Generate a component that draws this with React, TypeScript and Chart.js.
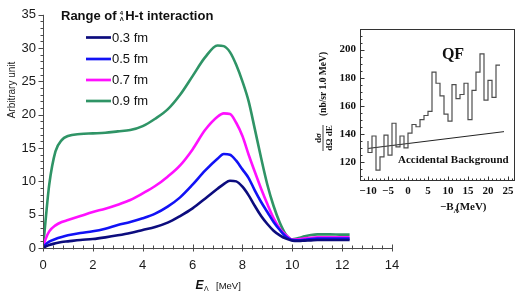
import React, { useEffect, useRef } from "react";
import { Chart, registerables } from "chart.js";

Chart.register(...registerables);

// ---------- Main chart data ----------
const energies = [0, 0.1, 0.25, 0.5, 0.75, 1, 1.5, 2, 2.5, 3, 3.5, 4, 4.5, 5, 5.5, 6, 6.5, 7, 7.25, 7.5, 7.75, 8, 8.25, 8.5, 8.75, 9, 9.25, 9.5, 9.75, 10, 10.25, 10.5, 10.75, 11, 11.5, 12, 12.3];
const range03 = [0, 0.2, 0.45, 0.7, 0.9, 1.0, 1.2, 1.35, 1.6, 1.9, 2.25, 2.7, 3.15, 3.8, 4.8, 5.95, 7.4, 8.9, 9.6, 10.1, 10.0, 9.2, 7.9, 6.3, 4.8, 3.6, 2.6, 1.9, 1.4, 1.1, 1.05, 1.1, 1.15, 1.2, 1.2, 1.2, 1.2];
const range05 = [0, 0.5, 0.95, 1.35, 1.65, 1.9, 2.25, 2.5, 2.9, 3.45, 3.9, 4.45, 5.15, 6.2, 7.6, 9.5, 11.6, 13.4, 14.1, 14.0, 13.1, 11.8, 10.5, 8.6, 6.9, 5.4, 3.9, 2.7, 1.7, 1.2, 1.15, 1.25, 1.35, 1.4, 1.4, 1.4, 1.4];
const range07 = [0, 1.3, 2.5, 3.4, 3.9, 4.2, 4.8, 5.4, 5.9, 6.5, 7.2, 8.2, 9.3, 10.7, 12.4, 14.8, 17.7, 19.7, 20.2, 20.1, 18.8, 16.8, 14.0, 11.4, 8.9, 6.6, 4.5, 2.9, 1.9, 1.25, 1.3, 1.45, 1.55, 1.6, 1.6, 1.6, 1.6];
const range09 = [0, 4.0, 9.5, 14.5, 16.2, 16.8, 17.1, 17.2, 17.3, 17.5, 17.7, 18.3, 19.4, 20.8, 23.0, 25.8, 28.6, 30.4, 30.3, 29.4, 27.5, 25.0, 22.0, 17.8, 13.5, 9.5, 6.3, 3.8, 2.0, 1.3, 1.5, 1.75, 1.95, 2.05, 2.05, 2.0, 2.0];
const seriesLabels = ["0.3 fm", "0.5 fm", "0.7 fm", "0.9 fm"];
const seriesColors = ["#0c0c7e", "#1212f5", "#ff10ff", "#2f9466"];
const mainXTicks = [0, 2, 4, 6, 8, 10, 12, 14];
const mainYTicks = [0, 5, 10, 15, 20, 25, 30, 35];
const legendTitlePrefix = "Range of";
const legendTitleSup = "4";
const legendTitleSub = "Λ";
const legendTitleSuffix = "H-t interaction";
const mainYTitle = "Arbitrary unit";
const mainXTitleMain = "E";
const mainXTitleSub = "Λ";
const mainXTitleUnit = "[MeV]";

// ---------- Inset data ----------
const binEdges = [-10, -9, -8, -7, -6, -5, -4, -3, -2, -1, 0, 1, 2, 3, 4, 5, 6, 7, 8, 9, 10, 11, 12, 13, 14, 15, 16, 17, 18, 19, 20, 21, 22, 23, 24];
const binCounts = [134.8, 126.6, 138.4, 114, 123.5, 139, 124.7, 147.5, 130.6, 138.4, 129.9, 140.5, 146.6, 145, 150, 153, 156, 184, 176, 167, 154, 149, 175, 165, 168, 176, 150, 171, 184, 197, 164, 178, 166, 189];
const bgX = [-10, 24];
const bgY = [129.5, 141.5];
const insetXTicks = [-10, -5, 0, 5, 10, 15, 20, 25];
const insetYTicks = [120, 140, 160, 180, 200];
const insetLabelQF = "QF";
const insetLabelBg = "Accidental Background";
const insetXTitleMain = "\u2212B";
const insetXTitleSub = "Λ";
const insetXTitleUnit = "(MeV)";
const insetYTitleNum = "dσ";
const insetYTitleDen = "dΩ dE";
const insetYTitleUnit = "(nb/sr 1.0 MeV)";

const SANS = '"Liberation Sans", Arial, sans-serif';
const SERIF = '"Liberation Serif", "Times New Roman", serif';

const mainDecor = {
  id: "mainDecor",
  afterDraw(chart: any) {
    const ctx = chart.ctx as CanvasRenderingContext2D;
    const xs = chart.scales.x;
    const ys = chart.scales.y;
    const area = chart.chartArea;
    ctx.save();
    ctx.strokeStyle = "#4a4a4a";
    ctx.lineWidth = 1;
    // axis lines
    const axX = Math.round(area.left) + 0.5;
    const axY = Math.round(area.bottom) + 0.5;
    ctx.beginPath();
    ctx.moveTo(axX, area.top);
    ctx.lineTo(axX, axY);
    ctx.lineTo(xs.getPixelForValue(14), axY);
    ctx.stroke();
    // y ticks
    for (let v = 0; v <= 35; v += 1) {
      const py = Math.round(ys.getPixelForValue(v)) + 0.5;
      const major = v % 5 === 0;
      ctx.beginPath();
      ctx.moveTo(axX - (major ? 5 : 3), py);
      ctx.lineTo(axX, py);
      ctx.stroke();
    }
    // x ticks
    for (let i = 0; i <= 35; i++) {
      const px = Math.round(xs.getPixelForValue(i * 0.4)) + 0.5;
      const major = i % 5 === 0;
      ctx.beginPath();
      ctx.moveTo(px, axY - (major ? 4 : 3));
      ctx.lineTo(px, axY + (major ? 3 : 1));
      ctx.stroke();
    }
    ctx.fillStyle = "#111";
    // legend title
    ctx.textBaseline = "alphabetic";
    ctx.textAlign = "left";
    ctx.font = `bold 13px ${SANS}`;
    let tx = 61;
    const tb = 20;
    ctx.fillText(legendTitlePrefix, tx, tb);
    tx += ctx.measureText(legendTitlePrefix + " ").width - 0.5;
    ctx.font = `bold 6px ${SANS}`;
    ctx.fillText(legendTitleSup, tx, tb - 5);
    ctx.fillText(legendTitleSub, tx, tb + 1);
    tx += 5.5;
    ctx.font = `bold 13px ${SANS}`;
    ctx.fillText(legendTitleSuffix, tx, tb);
    // legend items
    const rows = [37.5, 59, 80, 101];
    chart.data.datasets.forEach((ds: any, i: number) => {
      ctx.strokeStyle = ds.borderColor;
      ctx.lineWidth = 2.7;
      ctx.beginPath();
      ctx.moveTo(86, rows[i]);
      ctx.lineTo(111, rows[i]);
      ctx.stroke();
      ctx.fillStyle = "#111";
      ctx.font = `13px ${SANS}`;
      ctx.textBaseline = "middle";
      ctx.fillText(ds.label, 112, rows[i] + 0.5);
    });
    // y title
    ctx.save();
    ctx.translate(12, 90);
    ctx.rotate(-Math.PI / 2);
    ctx.textAlign = "center";
    ctx.textBaseline = "middle";
    ctx.font = `10px ${SANS}`;
    ctx.fillStyle = "#222";
    ctx.fillText(mainYTitle, 0, 0);
    ctx.restore();
    // x title
    ctx.textBaseline = "alphabetic";
    ctx.textAlign = "left";
    ctx.font = `bold italic 12px ${SANS}`;
    ctx.fillText(mainXTitleMain, 195.5, 288.5);
    ctx.font = `7px ${SANS}`;
    ctx.fillText(mainXTitleSub, 204, 290.5);
    ctx.font = `9.5px ${SANS}`;
    ctx.fillText(mainXTitleUnit, 216, 288.5);
    ctx.restore();
  },
};

const insetDecor = {
  id: "insetDecor",
  afterDraw(chart: any) {
    const ctx = chart.ctx as CanvasRenderingContext2D;
    const xs = chart.scales.x;
    const ys = chart.scales.y;
    const a = chart.chartArea;
    const L = Math.round(a.left) + 0.5;
    const R = Math.round(a.right) + 0.5;
    const T = Math.round(a.top) + 0.5;
    const B = Math.round(a.bottom) + 0.5;
    ctx.save();
    ctx.strokeStyle = "#333";
    ctx.lineWidth = 1;
    ctx.strokeRect(L, T, R - L, B - T);
    // left ticks (inward)
    for (let v = 110; v <= 210; v += 5) {
      const py = Math.round(ys.getPixelForValue(v)) + 0.5;
      const major = v % 20 === 0 && v >= 120 && v <= 200;
      ctx.beginPath();
      ctx.moveTo(L, py);
      ctx.lineTo(L + (major ? 4 : 2), py);
      ctx.stroke();
    }
    // bottom ticks (inward)
    for (let v = -11; v <= 26; v += 1) {
      const px = Math.round(xs.getPixelForValue(v)) + 0.5;
      const major = v % 5 === 0;
      ctx.beginPath();
      ctx.moveTo(px, B);
      ctx.lineTo(px, B - (major ? 4 : 2));
      ctx.stroke();
    }
    ctx.fillStyle = "#111";
    ctx.textBaseline = "alphabetic";
    // QF
    ctx.textAlign = "center";
    ctx.font = `bold 16px ${SERIF}`;
    ctx.fillText(insetLabelQF, 143, 41);
    // Accidental background
    ctx.textAlign = "left";
    ctx.font = `bold 11px ${SERIF}`;
    ctx.fillText(insetLabelBg, 88, 145);
    // x title
    ctx.font = `bold 11px ${SERIF}`;
    ctx.fillText(insetXTitleMain, 130, 192);
    const w1 = ctx.measureText(insetXTitleMain).width;
    ctx.font = `bold 7px ${SERIF}`;
    ctx.fillText(insetXTitleSub, 130 + w1, 195);
    ctx.font = `bold 11px ${SERIF}`;
    ctx.fillText(insetXTitleUnit, 146, 192);
    // y title (rotated)
    ctx.save();
    ctx.translate(14, 66);
    ctx.rotate(-Math.PI / 2);
    ctx.textAlign = "center";
    ctx.textBaseline = "middle";
    ctx.font = `bold 9.5px ${SERIF}`;
    ctx.fillText(insetYTitleUnit, 0, 0);
    ctx.restore();
    ctx.save();
    ctx.translate(13, 120);
    ctx.rotate(-Math.PI / 2);
    ctx.textAlign = "center";
    ctx.textBaseline = "alphabetic";
    ctx.font = `bold 9px ${SERIF}`;
    ctx.fillText(insetYTitleNum, 0, -2);
    ctx.textBaseline = "top";
    ctx.fillText(insetYTitleDen, 0, 2);
    ctx.strokeStyle = "#111";
    ctx.lineWidth = 0.8;
    ctx.beginPath();
    ctx.moveTo(-13, 0);
    ctx.lineTo(13, 0);
    ctx.stroke();
    ctx.restore();
    ctx.restore();
  },
};

export default function App() {
  const mainRef = useRef<HTMLCanvasElement>(null);
  const insetRef = useRef<HTMLCanvasElement>(null);

  useEffect(() => {
    const series = [range03, range05, range07, range09];
    const main = new Chart(mainRef.current as HTMLCanvasElement, {
      type: "line",
      data: {
        datasets: series.map((s, i) => ({
          label: seriesLabels[i],
          data: energies.map((e, j) => ({ x: e, y: s[j] })),
          borderColor: seriesColors[i],
          backgroundColor: seriesColors[i],
          borderWidth: 2.6,
          pointRadius: 0,
          cubicInterpolationMode: "monotone" as const,
          fill: false,
        })),
      },
      options: {
        responsive: false,
        devicePixelRatio: 1,
        animation: false,
        layout: { padding: { left: 0, top: 8, right: 131, bottom: 0 } },
        plugins: { legend: { display: false }, tooltip: { enabled: false } },
        scales: {
          x: {
            type: "linear",
            min: 0,
            max: 14,
            afterBuildTicks: (s: any) => { s.ticks = mainXTicks.map((v) => ({ value: v })); },
            afterFit: (s: any) => { s.height = 48; },
            grid: { display: false, drawTicks: false },
            border: { display: false },
            ticks: { padding: 10, color: "#1a1a1a", font: { family: SANS, size: 13 }, maxRotation: 0, autoSkip: false },
          },
          y: {
            type: "linear",
            min: 0,
            max: 35,
            afterBuildTicks: (s: any) => { s.ticks = mainYTicks.map((v) => ({ value: v })); },
            afterFit: (s: any) => { s.width = 43; },
            grid: { display: false, drawTicks: false },
            border: { display: false },
            ticks: { padding: 7, color: "#1a1a1a", font: { family: SANS, size: 13 }, autoSkip: false },
          },
        },
      },
      plugins: [mainDecor],
    });

    const histData = binEdges.map((e, i) => ({ x: e, y: binCounts[i] }));
    histData.push({ x: 24, y: binCounts[binCounts.length - 1] });
    const inset = new Chart(insetRef.current as HTMLCanvasElement, {
      type: "line",
      data: {
        datasets: [
          {
            label: "QF",
            data: histData,
            stepped: "after" as const,
            borderColor: "#4d4d4d",
            borderWidth: 1.2,
            pointRadius: 0,
            fill: false,
          },
          {
            label: "Accidental Background",
            data: bgX.map((x, i) => ({ x, y: bgY[i] })),
            borderColor: "#222",
            borderWidth: 1,
            pointRadius: 0,
            fill: false,
          },
        ],
      },
      options: {
        responsive: false,
        devicePixelRatio: 1,
        animation: false,
        layout: { padding: { left: 0, top: 9, right: 9, bottom: 0 } },
        plugins: { legend: { display: false }, tooltip: { enabled: false } },
        scales: {
          x: {
            type: "linear",
            min: -12,
            max: 26.5,
            afterBuildTicks: (s: any) => { s.ticks = insetXTicks.map((v) => ({ value: v })); },
            afterFit: (s: any) => { s.height = 43; },
            grid: { display: false, drawTicks: false },
            border: { display: false },
            ticks: {
              padding: 5,
              color: "#111",
              font: { family: SERIF, size: 11, weight: "bold" },
              maxRotation: 0,
              autoSkip: false,
              callback: (v: any) => (Number(v) < 0 ? "\u2212" + Math.abs(Number(v)) : String(v)),
            },
          },
          y: {
            type: "linear",
            min: 107,
            max: 215,
            afterBuildTicks: (s: any) => { s.ticks = insetYTicks.map((v) => ({ value: v })); },
            afterFit: (s: any) => { s.width = 50; },
            grid: { display: false, drawTicks: false },
            border: { display: false },
            ticks: { padding: 4, color: "#111", font: { family: SERIF, size: 11, weight: "bold" }, autoSkip: false },
          },
        },
      },
      plugins: [insetDecor],
    });

    return () => {
      main.destroy();
      inset.destroy();
    };
  }, []);

  return (
    <div style={{ position: "absolute", left: 0, top: 0, width: 523, height: 296, background: "#fff", overflow: "hidden" }}>
      <canvas ref={mainRef} width={523} height={296} style={{ position: "absolute", left: 0, top: 0, width: 523, height: 296 }} />
      <canvas ref={insetRef} width={213} height={205} style={{ position: "absolute", left: 310, top: 18, width: 213, height: 205 }} />
    </div>
  );
}
